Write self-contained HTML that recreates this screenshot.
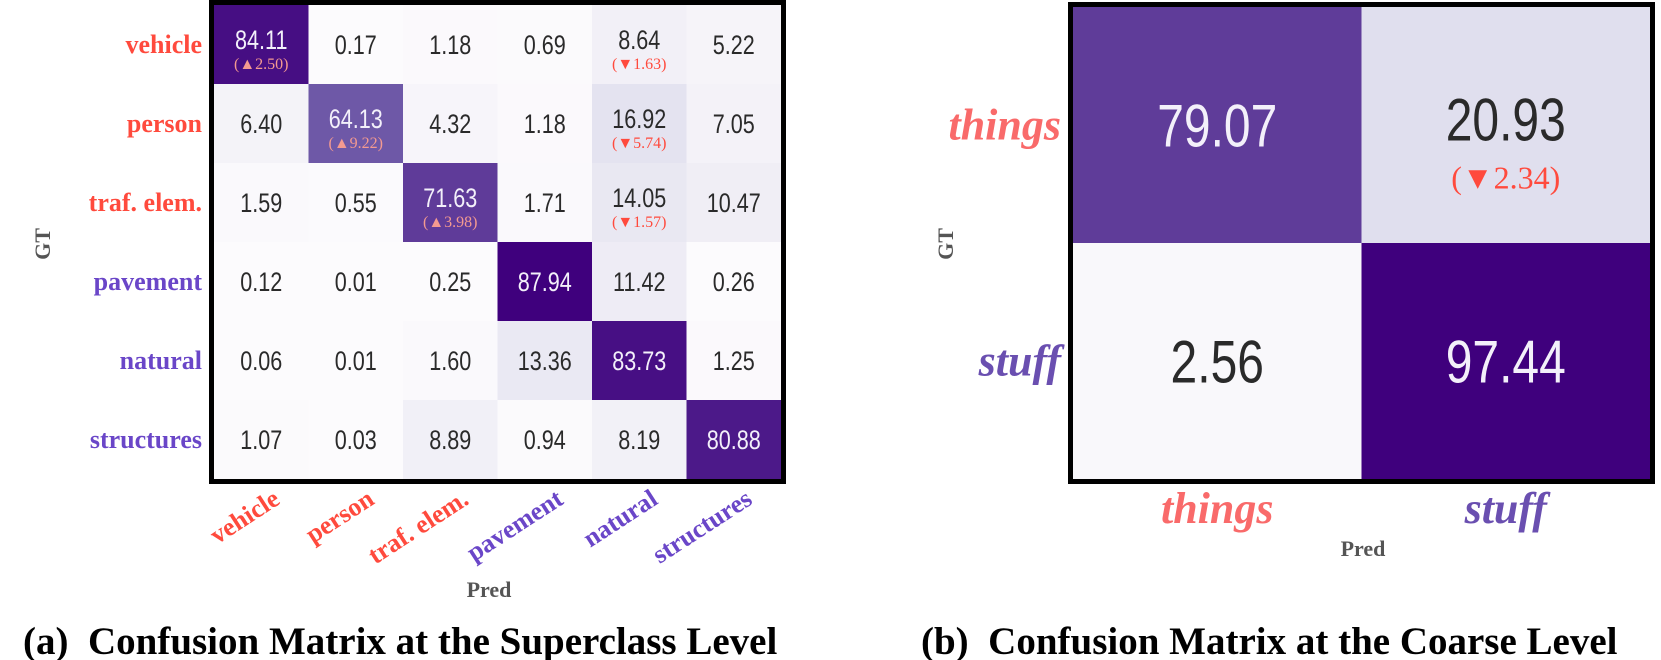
<!DOCTYPE html>
<html><head><meta charset="utf-8"><style>
html,body{margin:0;padding:0;background:#fff;}
svg{display:block;}
</style></head><body>
<svg id="chart" width="1661" height="660" xmlns="http://www.w3.org/2000/svg">
<g id="left"></g>
<g id="right"></g>
<text x="50" y="244" transform="rotate(-90 50 244)" text-anchor="middle" font-family="Liberation Serif, serif" font-weight="bold" font-size="22" fill="#555">GT</text>
<text x="489" y="597" text-anchor="middle" font-family="Liberation Serif, serif" font-weight="bold" font-size="22" fill="#555">Pred</text>
<text x="953" y="244" transform="rotate(-90 953 244)" text-anchor="middle" font-family="Liberation Serif, serif" font-weight="bold" font-size="22" fill="#555">GT</text>
<text x="1363" y="556" text-anchor="middle" font-family="Liberation Serif, serif" font-weight="bold" font-size="22" fill="#555">Pred</text>
<text x="23" y="654" font-family="Liberation Serif, serif" font-weight="bold" font-size="39" fill="#000" xml:space="preserve">(a)  Confusion Matrix at the Superclass Level</text>
<text x="921" y="654" font-family="Liberation Serif, serif" font-weight="bold" font-size="39" fill="#000" xml:space="preserve">(b)  Confusion Matrix at the Coarse Level</text>
</svg>
<script>
const superClasses = ["vehicle","person","traf. elem.","pavement","natural","structures"];
const superColors = ["#ff4a3d","#ff4a3d","#ff4a3d","#6a46c8","#6a46c8","#6a46c8"];
const superValues = [
 [84.11,0.17,1.18,0.69,8.64,5.22],
 [6.40,64.13,4.32,1.18,16.92,7.05],
 [1.59,0.55,71.63,1.71,14.05,10.47],
 [0.12,0.01,0.25,87.94,11.42,0.26],
 [0.06,0.01,1.60,13.36,83.73,1.25],
 [1.07,0.03,8.89,0.94,8.19,80.88]
];
const superDeltas = [
 ["▲2.50",null,null,null,"▼1.63",null],
 [null,"▲9.22",null,null,"▼5.74",null],
 [null,null,"▲3.98",null,"▼1.57",null],
 [null,null,null,null,null,null],
 [null,null,null,null,null,null],
 [null,null,null,null,null,null]
];
const coarseClasses = ["things","stuff"];
const coarseColors = ["#f96a6a","#6a4fb0"];
const coarseValues = [[79.07,20.93],[2.56,97.44]];
const coarseDeltas = [[null,"▼2.34"],[null,null]];

const NS="http://www.w3.org/2000/svg";
const stops=["#fcfbfd","#efedf5","#dadaeb","#bcbddc","#9e9ac8","#807dba","#6a51a3","#54278f","#3f007d"];
function hex(c){return [1,3,5].map(i=>parseInt(c.substr(i,2),16));}
function cmap(t){t=Math.max(0,Math.min(1,t));const p=t*(stops.length-1);const i=Math.min(stops.length-2,Math.floor(p));const f=p-i;const a=hex(stops[i]),b=hex(stops[i+1]);return "rgb("+a.map((v,k)=>Math.round(v+(b[k]-v)*f)).join(",")+")";}
function mk(tag,attrs,parent){const e=document.createElementNS(NS,tag);for(const k in attrs)e.setAttribute(k,attrs[k]);parent.appendChild(e);return e;}

function drawMatrix(g,opt){
 const {classes,colors,values,deltas,x0,y0,w,h,valSize,deltaSize,lblSize,italic,rotate,prefix,deltaOff,valUp}=opt;
 const n=classes.length;const cw=w/n,ch=h/n;
 let vmax=0;values.forEach(r=>r.forEach(v=>{if(v>vmax)vmax=v;}));
 const xs=i=>x0+i*cw, ys=j=>y0+j*ch;
 for(let r=0;r<n;r++)for(let c=0;c<n;c++){
  const v=values[r][c];const t=v/vmax;
  const rect=mk("rect",{x:xs(c),y:ys(r),width:cw+0.5,height:ch+0.5,fill:cmap(t)},g);
  
  
  const dark=t>0.5;
  const d=deltas[r][c];
  const cy=ys(r)+ch/2+(d?-valUp:0)+valSize*0.36;
  const cx=xs(c)+cw/2;
  const tx=mk("text",{x:0,y:0,"text-anchor":"middle",transform:"translate("+cx+" "+cy+") scale(0.8 1)","font-family":"Liberation Sans, sans-serif","font-size":valSize,fill:dark?"#f3f0fa":"#2a2a2a"},g);
  tx.textContent=v.toFixed(2);
  
  
  if(d){
   const dt=mk("text",{x:cx,y:cy+deltaOff,"text-anchor":"middle","font-family":"Liberation Serif, serif","font-size":deltaSize,fill:dark?"#f49a90":"#ff4a3d"},g);
   dt.textContent="("+d+")";
   
   
  }
 }
 const bw=5;
 const br=mk("rect",{x:x0-bw/2,y:y0-bw/2,width:w+bw,height:h+bw,fill:"none",stroke:"#000","stroke-width":bw},g);
 
 
 for(let i=0;i<n;i++){
  const yl=mk("text",{x:x0-12,y:ys(i)+ch/2+lblSize*0.33,"text-anchor":"end","font-family":"Liberation Serif, serif","font-weight":"bold","font-style":italic?"italic":"normal","font-size":lblSize,fill:colors[i]},g);
  yl.textContent=classes[i];
  
  
  let xl;
  if(rotate){
   const ax=xs(i)+cw/2+20, ay=y0+h+24;
   xl=mk("text",{x:ax,y:ay,"text-anchor":"end","font-family":"Liberation Serif, serif","font-weight":"bold","font-size":lblSize,fill:colors[i],transform:"rotate(-33 "+ax+" "+ay+")"},g);
  } else {
   xl=mk("text",{x:xs(i)+cw/2,y:y0+h+lblSize*1.0,"text-anchor":"middle","font-family":"Liberation Serif, serif","font-weight":"bold","font-style":italic?"italic":"normal","font-size":lblSize,fill:colors[i]},g);
  }
  xl.textContent=classes[i];
  
  
 }
}
drawMatrix(document.getElementById("left"),{classes:superClasses,colors:superColors,values:superValues,deltas:superDeltas,x0:214,y0:5,w:567,h:474,valSize:27,deltaSize:16,lblSize:26,italic:false,rotate:true,prefix:"superclass",deltaOff:20,valUp:5});
drawMatrix(document.getElementById("right"),{classes:coarseClasses,colors:coarseColors,values:coarseValues,deltas:coarseDeltas,x0:1073,y0:7,w:577,h:472,valSize:60,deltaSize:32,lblSize:44,italic:true,rotate:false,prefix:"coarse",deltaOff:48,valUp:6});
</script>
</body></html>
